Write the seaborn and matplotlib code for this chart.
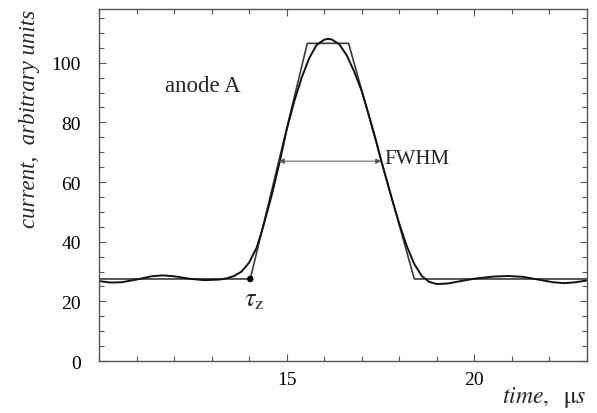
import matplotlib
matplotlib.use("Agg")
import matplotlib.pyplot as plt
import pandas as pd
import seaborn as sns

# smooth fitted pulse
smooth_t = [10.0, 10.3, 10.6, 11.0, 11.4, 11.7, 12.0, 12.4, 12.8, 13.2, 13.4, 13.6,
            13.8, 14.0, 14.2, 14.36, 14.6, 14.8, 15.0, 15.2, 15.4, 15.6, 15.8, 16.0,
            16.1, 16.2, 16.4, 16.6, 16.8, 17.0, 17.2, 17.4, 17.52, 17.6, 17.8, 18.0,
            18.2, 18.4, 18.6, 18.8, 19.0, 19.3, 19.6, 20.0, 20.5, 20.9, 21.3, 21.7,
            22.1, 22.4, 22.7, 23.0]
smooth_i = [26.8, 26.3, 26.4, 27.3, 28.4, 28.7, 28.4, 27.6, 27.1, 27.3, 27.7, 28.5,
            30.0, 33.0, 38.0, 44.4, 55.5, 66.0, 77.5, 87.0, 95.0, 101.5, 106.0, 107.7,
            108.0, 107.8, 106.2, 102.5, 97.0, 90.5, 82.0, 73.0, 67.0, 63.5, 54.5, 46.0,
            38.5, 32.5, 28.5, 26.5, 25.8, 26.0, 26.7, 27.6, 28.3, 28.5, 28.2, 27.3,
            26.4, 26.1, 26.4, 27.0]

# trapezoid approximation
trap_t = [10.0, 14.03, 15.55, 16.65, 18.4, 23.0]
trap_i = [27.5, 27.5, 106.5, 106.5, 27.5, 27.5]

tau_z = (14.03, 27.5)
fwhm_left, fwhm_right, fwhm_level = 14.79, 17.52, 67.0

x_major = [15, 20]
y_major = [0, 20, 40, 60, 80, 100]

smooth = pd.DataFrame({"t": smooth_t, "i": smooth_i})
trap = pd.DataFrame({"t": trap_t, "i": trap_i})

sns.set_style("ticks")
plt.rcParams["font.family"] = ["Liberation Serif", "DejaVu Serif"]
plt.rcParams["mathtext.fontset"] = "stix"

fig = plt.figure(figsize=(5.97, 4.14), dpi=100)
ax = fig.add_axes([0.1658, 0.1256, 0.8174, 0.8502])

sns.lineplot(data=trap, x="t", y="i", ax=ax, color="#3a3a3a", lw=1.2,
             sort=False, estimator=None)
sns.lineplot(data=smooth, x="t", y="i", ax=ax, color="#111111", lw=1.4,
             sort=False, estimator=None)
sns.scatterplot(x=[tau_z[0]], y=[tau_z[1]], ax=ax, color="black", s=22,
                edgecolor="none", zorder=5)

ax.annotate("", xy=(fwhm_left, fwhm_level), xytext=(fwhm_right, fwhm_level),
            arrowprops=dict(arrowstyle="<|-|>", color="#555555", lw=0.7,
                            mutation_scale=8, shrinkA=0, shrinkB=0))
ax.text(17.6, 68.0, "FWHM", fontsize=15, ha="left", va="center")
ax.text(11.75, 92.5, "anode A", fontsize=16.5, ha="left", va="center")
ax.text(tau_z[0] + 0.1, tau_z[1] - 3.5, r"$\tau_{\mathrm{z}}$", fontsize=19,
        ha="center", va="top")

ax.set_xlim(10, 23)
ax.set_ylim(0, 118)
ax.set_xticks(x_major)
ax.set_xticks(range(10, 24), minor=True)
ax.set_yticks(y_major)
ax.set_yticks(range(0, 119, 5), minor=True)
ax.tick_params(which="both", direction="in", top=True, right=True,
               colors="#555555", labelcolor="black", labelsize=14)
ax.tick_params(axis="y", pad=13)
ax.tick_params(axis="x", pad=7)
ax.tick_params(which="major", length=5, width=0.8)
ax.tick_params(which="minor", length=3.5, width=0.8)
for sp in ax.spines.values():
    sp.set_color("#555555")
    sp.set_linewidth(1.0)

ax.set_xlabel(r"$\mathit{time,}\ \ \mathrm{\mu}\mathit{s}$", fontsize=17, loc="right")
ax.set_ylabel("current,  arbitrary units", fontsize=16.5, style="italic", loc="top")
ax.xaxis.set_label_coords(1.0, -0.065)
ax.yaxis.set_label_coords(-0.12, 1.0)

fig.savefig("out.png", dpi=100)
